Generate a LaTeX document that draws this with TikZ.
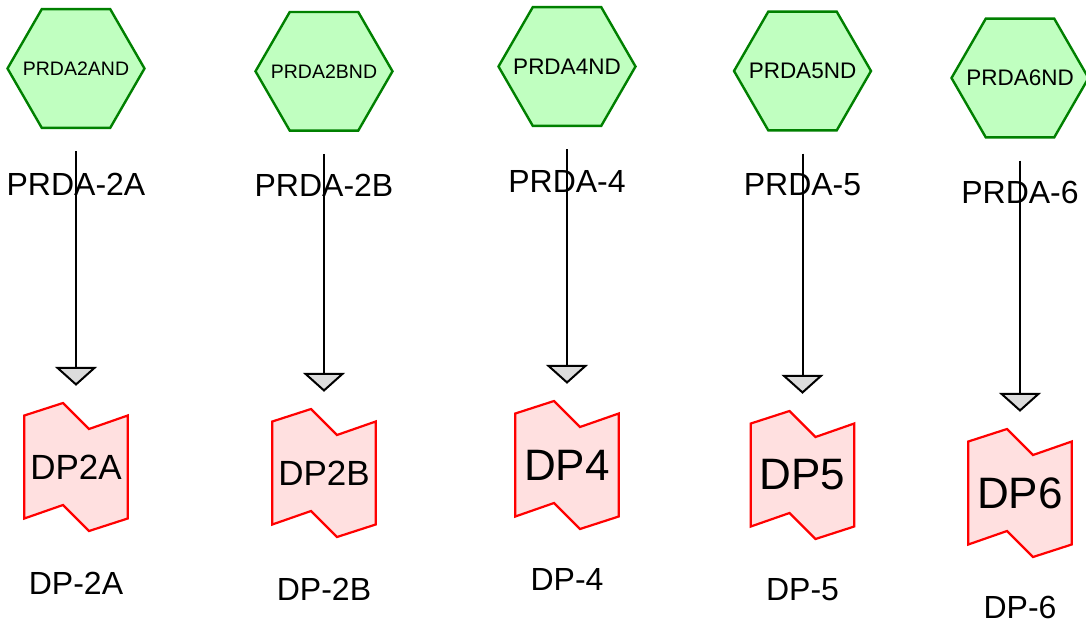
\documentclass[tikz,border=0pt]{standalone}
\usepackage{fontspec}
\setmainfont{Liberation Sans}
\usetikzlibrary{shapes.geometric,arrows.meta,backgrounds}
\definecolor{genefill}{RGB}{192,255,192}
\definecolor{geneline}{RGB}{0,128,0}
\definecolor{protfill}{RGB}{255,224,224}
\definecolor{tipfill}{RGB}{220,220,220}
\newcommand{\gname}[1]{\makebox[0pt]{#1}}
\tikzset{
  gene/.style={draw=geneline, fill=genefill, line width=2.4pt, regular polygon, regular polygon sides=6, minimum size=137pt, inner sep=0pt},
  prot/.style={minimum width=103.4pt, minimum height=128pt, inner sep=0pt},
  protline/.style={draw=red, fill=protfill, line width=2.2pt},
  lbl/.style={font=\fontsize{32}{38}\selectfont, inner sep=0pt},
  act/.style={line width=2pt, -{Triangle[width=42pt,length=19pt,fill=tipfill]}, shorten <=22pt, shorten >=17pt}
}
\begin{document}
\begin{tikzpicture}[x=1pt, y=-1pt]
\useasboundingbox (0,0) rectangle (1086,626);

\node[gene, font=\fontsize{19.5}{22}\selectfont] (g0) at (76,68.5) {\gname{PRDA2AND}}; \node[lbl] (gl0) at (76,184) {PRDA-2A};
\node[gene, font=\fontsize{19.5}{22}\selectfont] (g1) at (324,71.3) {\gname{PRDA2BND}}; \node[lbl] (gl1) at (324,185) {PRDA-2B};
\node[gene, font=\fontsize{22.5}{26}\selectfont] (g2) at (567,66.5) {\gname{PRDA4ND}}; \node[lbl] (gl2) at (567,181) {PRDA-4};
\node[gene, font=\fontsize{22.5}{26}\selectfont] (g3) at (802.5,71) {\gname{PRDA5ND}}; \node[lbl] (gl3) at (802.5,185) {PRDA-5};
\node[gene, font=\fontsize{22.5}{26}\selectfont] (g4) at (1020,78) {\gname{PRDA6ND}}; \node[lbl] (gl4) at (1020,192) {PRDA-6};

\node[prot, font=\fontsize{35}{40}\selectfont] (p0) at (76,467) {DP2A}; \node[lbl] (pl0) at (76,583) {DP-2A};
\node[prot, font=\fontsize{35}{40}\selectfont] (p1) at (324,473) {DP2B}; \node[lbl] (pl1) at (324,589) {DP-2B};
\node[prot, font=\fontsize{44}{50}\selectfont] (p2) at (567,465) {DP4}; \node[lbl] (pl2) at (567,579) {DP-4};
\node[prot, font=\fontsize{44}{50}\selectfont] (p3) at (802.5,475) {DP5}; \node[lbl] (pl3) at (802.5,590) {DP-5};
\node[prot, font=\fontsize{44}{50}\selectfont] (p4) at (1020,493) {DP6}; \node[lbl] (pl4) at (1020,607.5) {DP-6};

\begin{scope}[on background layer]
\foreach \i in {0,...,4} {
    \draw[protline, shift={(p\i.center)}] (-51.7,-51.5) -- (-13,-64) -- (13,-38) -- (51.7,-51.5) -- (51.7,51.5) -- (13,64) -- (-13,38) -- (-51.7,51.5) -- cycle;
}
\end{scope}

\foreach \i in {0,...,4} {
    \draw[act] (g\i) -- (p\i);
}

\end{tikzpicture}
\end{document}
